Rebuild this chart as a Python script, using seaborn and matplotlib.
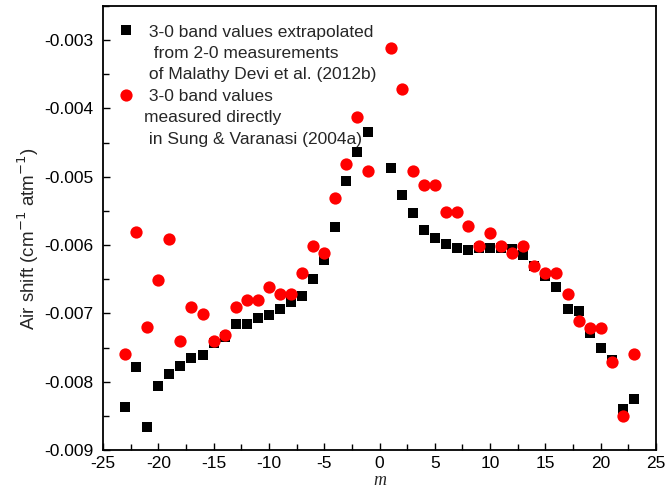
import matplotlib
matplotlib.use("Agg")
import matplotlib.pyplot as plt
from matplotlib.lines import Line2D
from matplotlib.ticker import MultipleLocator, FormatStrFormatter
import seaborn as sns
import pandas as pd

m_neg = list(range(-23, 0))
m_pos = list(range(1, 24))
m_vals = m_neg + m_pos

black_vals = [-0.00837, -0.00779, -0.00866, -0.00806, -0.00789, -0.00777, -0.00765, -0.00761,
              -0.00744, -0.00735, -0.00716, -0.00716, -0.00707, -0.00703, -0.00693, -0.00684,
              -0.00674, -0.00650, -0.00622, -0.00573, -0.00506, -0.00464, -0.00434,
              -0.00487, -0.00526, -0.00553, -0.00578, -0.00589, -0.00599, -0.00605, -0.00607,
              -0.00605, -0.00605, -0.00604, -0.00606, -0.00615, -0.00631, -0.00645, -0.00662,
              -0.00693, -0.00697, -0.00728, -0.00750, -0.00768, -0.00840, -0.00825]

red_vals = [-0.00760, -0.00581, -0.00720, -0.00651, -0.00591, -0.00741, -0.00691, -0.00701,
            -0.00741, -0.00731, -0.00691, -0.00680, -0.00680, -0.00661, -0.00672, -0.00672,
            -0.00641, -0.00601, -0.00611, -0.00531, -0.00481, -0.00412, -0.00492,
            -0.00312, -0.00372, -0.00492, -0.00512, -0.00512, -0.00552, -0.00552, -0.00572,
            -0.00602, -0.00582, -0.00602, -0.00612, -0.00602, -0.00631, -0.00641, -0.00641,
            -0.00672, -0.00711, -0.00721, -0.00721, -0.00771, -0.00850, -0.00760]

label_black = [" 3-0 band values extrapolated", "  from 2-0 measurements", " of Malathy Devi et al. (2012b)"]
label_red = [" 3-0 band values", "measured directly", " in Sung & Varanasi (2004a)"]

x_ticks = [-25, -20, -15, -10, -5, 0, 5, 10, 15, 20, 25]
y_ticks = [-0.009, -0.008, -0.007, -0.006, -0.005, -0.004, -0.003]

sns.set_style("ticks")
plt.rcParams['font.family'] = ['Liberation Sans', 'DejaVu Sans']
plt.rcParams['axes.unicode_minus'] = False
plt.rcParams['font.size'] = 12.5

df_black = pd.DataFrame({"m": m_vals, "shift": black_vals})
df_red = pd.DataFrame({"m": m_vals, "shift": red_vals})

fig = plt.figure(figsize=(6.66, 4.95), dpi=100)
ax = fig.add_axes([103/666, 1 - 450/495, (656-103)/666, (450-6)/495])

sns.scatterplot(data=df_black, x="m", y="shift", marker="s", color="black", s=62,
                linewidth=0, ax=ax, legend=False)
sns.scatterplot(data=df_red, x="m", y="shift", marker="o", color="#ff0000", s=78,
                linewidth=0, ax=ax, legend=False)

ax.set_xlim(-25, 25)
ax.set_ylim(-0.009, -0.0025)
ax.set_xticks(x_ticks)
ax.set_yticks(y_ticks)
ax.xaxis.set_minor_locator(MultipleLocator(2.5))
ax.yaxis.set_minor_locator(MultipleLocator(0.0005))
ax.yaxis.set_major_formatter(FormatStrFormatter('%.3f'))
ax.tick_params(which='both', direction='in', top=False, right=False, labelsize=12.5,
               color='black', labelcolor='black', width=1.0)
ax.tick_params(which='major', length=5)
ax.tick_params(which='minor', length=4)
ax.tick_params(axis='y', which='both', pad=7)
ax.tick_params(axis='x', which='both', pad=4)
for sp in ax.spines.values():
    sp.set_visible(True)
    sp.set_color('black')
    sp.set_linewidth(1.3)

ax.set_xlabel("m", fontsize=13, fontstyle='italic', family=['Liberation Serif', 'DejaVu Serif'], labelpad=1)
ax.set_ylabel("Air shift (cm$^{-1}$ atm$^{-1}$)", fontsize=13.5)
ax.yaxis.set_label_coords(-0.113, 0.477)

blank = Line2D([], [], linestyle='none', marker=None)
h_black = Line2D([], [], linestyle='none', marker='s', color='black', markersize=7.9, markeredgewidth=0)
h_red = Line2D([], [], linestyle='none', marker='o', color='#ff0000', markersize=8.8, markeredgewidth=0)
handles = [h_black, blank, blank, h_red, blank, blank]
labels = label_black + label_red
ax.legend(handles, labels, loc='upper left', bbox_to_anchor=(0.0, 0.982), frameon=False,
          fontsize=12.5, handlelength=1.4, handletextpad=0.38, labelspacing=0.36,
          borderpad=0.0, borderaxespad=0.6)

fig.savefig("out.png", dpi=100)
